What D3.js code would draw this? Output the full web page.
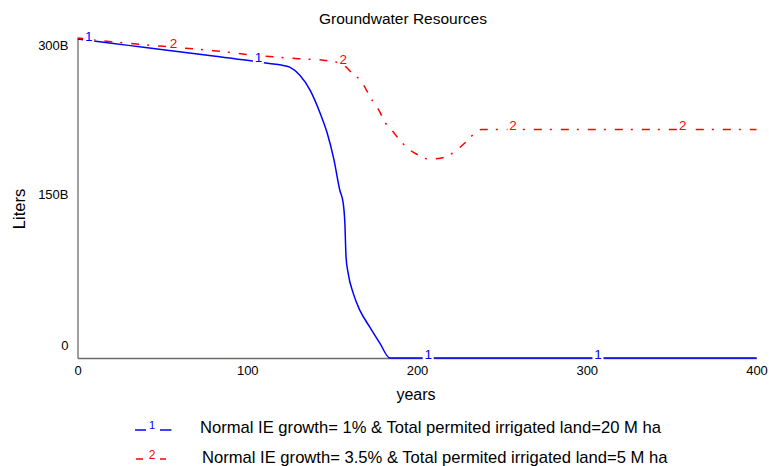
<!DOCTYPE html>
<html>
<head>
<meta charset="utf-8">
<script src="https://cdn.jsdelivr.net/npm/d3@7"></script>
<style>
  html, body { margin: 0; padding: 0; background: #fff; }
  svg { display: block; font-family: "Liberation Sans", Arial, sans-serif; }
</style>
</head>
<body>
<svg id="chart" width="769" height="466"></svg>
<script>
// ---- data (values in billions of liters) ----
const chartTitle = "Groundwater Resources";
const xLabel = "years";
const yLabel = "Liters";

const years1  = [0, 20, 40, 60, 80, 100, 113, 120, 125, 131, 137, 143, 147, 151, 154.5, 156.5, 157.5, 158.2, 159.4, 162.4, 166.3, 172.2, 178.1, 184, 250, 300, 400];
const values1 = [300, 296, 292, 288, 284, 280, 277, 275.5, 273.5, 266, 252, 230, 212, 187, 158, 146, 127, 95, 80, 61, 45, 29, 14, 0, 0, 0, 0];

const years2  = [0, 20, 40, 55, 80, 106, 130, 145, 152, 156, 159, 162, 167.3, 170.2, 174.1, 177.7, 181, 185.3, 189.8, 194.7, 200.6, 206.9, 214.4, 220.3, 225.2, 230.6, 235, 238, 250, 300, 400];
const values2 = [301, 297.5, 294.5, 292.5, 289, 284.5, 281.5, 280, 278.5, 276.5, 272.5, 267.5, 260, 252, 241, 232.6, 222, 214, 205, 197, 191, 187, 188, 192, 198, 206, 213, 215, 215, 215, 215];

const seriesNames = [
  "Normal IE growth= 1% & Total permited irrigated land=20 M ha",
  "Normal IE growth= 3.5% & Total permited irrigated land=5 M ha"
];
const seriesMarks = ["1", "2"];
const seriesColors = ["#0000ff", "#ff0000"];
const labelYears1 = [6, 106, 206, 306];
const labelYears2 = [56, 156, 256, 356];

const xTicks = [0, 100, 200, 300, 400];
const yTicks = [0, 150, 300];
const yTickLabels = ["0", "150B", "300B"];

// ---- scales ----
const svg = d3.select("#chart");
const x = d3.scaleLinear().domain([0, 400]).range([77.5, 756.5]);
const y = d3.scaleLinear().domain([0, 300]).range([358, 39]);
const axisColor = "#6b6b6b";

// title
svg.append("text").attr("x", 403).attr("y", 24).attr("text-anchor", "middle")
  .attr("font-size", 15.5).attr("fill", "#000").text(chartTitle);

// y axis
const yAxis = svg.append("g").attr("transform", `translate(${x(0)},0)`)
  .call(d3.axisLeft(y).tickValues(yTicks).tickSize(0).tickSizeOuter(0).tickPadding(9)
    .tickFormat((d, i) => yTickLabels[i]));
yAxis.select(".domain").attr("stroke", axisColor).attr("stroke-width", 1.3);
const yShift = {0: -13, 150: -4, 300: 6};
yAxis.selectAll(".tick text").attr("font-size", 13).attr("fill", "#000")
  .attr("font-family", null)
  .attr("dy", d => (0.32 * 13 + yShift[d]) + "px");

// x axis
const xAxis = svg.append("g").attr("transform", `translate(0,${y(0)})`)
  .call(d3.axisBottom(x).tickValues(xTicks).tickSize(0).tickSizeOuter(0).tickPadding(8)
    .tickFormat(d3.format("d")));
xAxis.select(".domain").attr("stroke", axisColor).attr("stroke-width", 1.3);
xAxis.selectAll(".tick text").attr("font-size", 13).attr("fill", "#000").attr("font-family", null);
svg.selectAll(".tick line").remove();

// axis labels
svg.append("text").attr("x", 416).attr("y", 400).attr("text-anchor", "middle")
  .attr("font-size", 16).attr("fill", "#000").text(xLabel);
svg.append("text").attr("transform", "translate(25,209) rotate(-90)").attr("text-anchor", "middle")
  .attr("font-size", 16.5).attr("fill", "#000").text(yLabel);

// lines
const line = d3.line().x(d => x(d[0])).y(d => y(d[1])).curve(d3.curveMonotoneX);
const s1 = years1.map((t, i) => [t, values1[i]]);
const s2 = years2.map((t, i) => [t, values2[i]]);

function valueAt(series, t) {
  const i = d3.bisector(d => d[0]).right(series, t);
  if (i <= 0) return series[0][1];
  if (i >= series.length) return series[series.length - 1][1];
  const a = series[i - 1], b = series[i];
  return a[1] + (b[1] - a[1]) * (t - a[0]) / (b[0] - a[0]);
}

svg.append("path").datum(s1).attr("d", line).attr("fill", "none")
  .attr("stroke", seriesColors[0]).attr("stroke-width", 1.5);
svg.append("path").datum(s2).attr("d", line).attr("fill", "none")
  .attr("stroke", seriesColors[1]).attr("stroke-width", 1.5)
  .attr("stroke-dasharray", "8,8,2,9");

// series number markers on the lines
function marks(series, yrs, idx) {
  yrs.forEach(t => {
    const px = x(t), py = y(valueAt(series, t));
    svg.append("rect").attr("x", px - 4.5).attr("y", py - 11).attr("width", 11).attr("height", 13)
      .attr("fill", "#fff");
    svg.append("text").attr("x", px + 1).attr("y", py + 0.5).attr("text-anchor", "middle")
      .attr("font-size", 13.5).attr("fill", seriesColors[idx]).text(seriesMarks[idx]);
  });
}
marks(s1, labelYears1, 0);
marks(s2, labelYears2, 1);

// legend
const legendRows = [
  {y: 430, segs: [[135, 146], [160, 171.5]], markX: 152, markY: 429, markSize: 11, textX: 200, textY: 433},
  {y: 459, segs: [[136, 143], [160, 166]], markX: 152, markY: 458.5, markSize: 12, textX: 202, textY: 463}
];
legendRows.forEach((r, i) => {
  r.segs.forEach(s => {
    svg.append("line").attr("x1", s[0]).attr("x2", s[1]).attr("y1", r.y).attr("y2", r.y)
      .attr("stroke", seriesColors[i]).attr("stroke-width", 1.5);
  });
  svg.append("text").attr("x", r.markX).attr("y", r.markY).attr("text-anchor", "middle")
    .attr("font-size", r.markSize).attr("fill", seriesColors[i]).text(seriesMarks[i]);
  svg.append("text").attr("x", r.textX).attr("y", r.textY)
    .attr("font-size", 16.6).attr("fill", "#000").text(seriesNames[i]);
});
</script>
</body>
</html>
